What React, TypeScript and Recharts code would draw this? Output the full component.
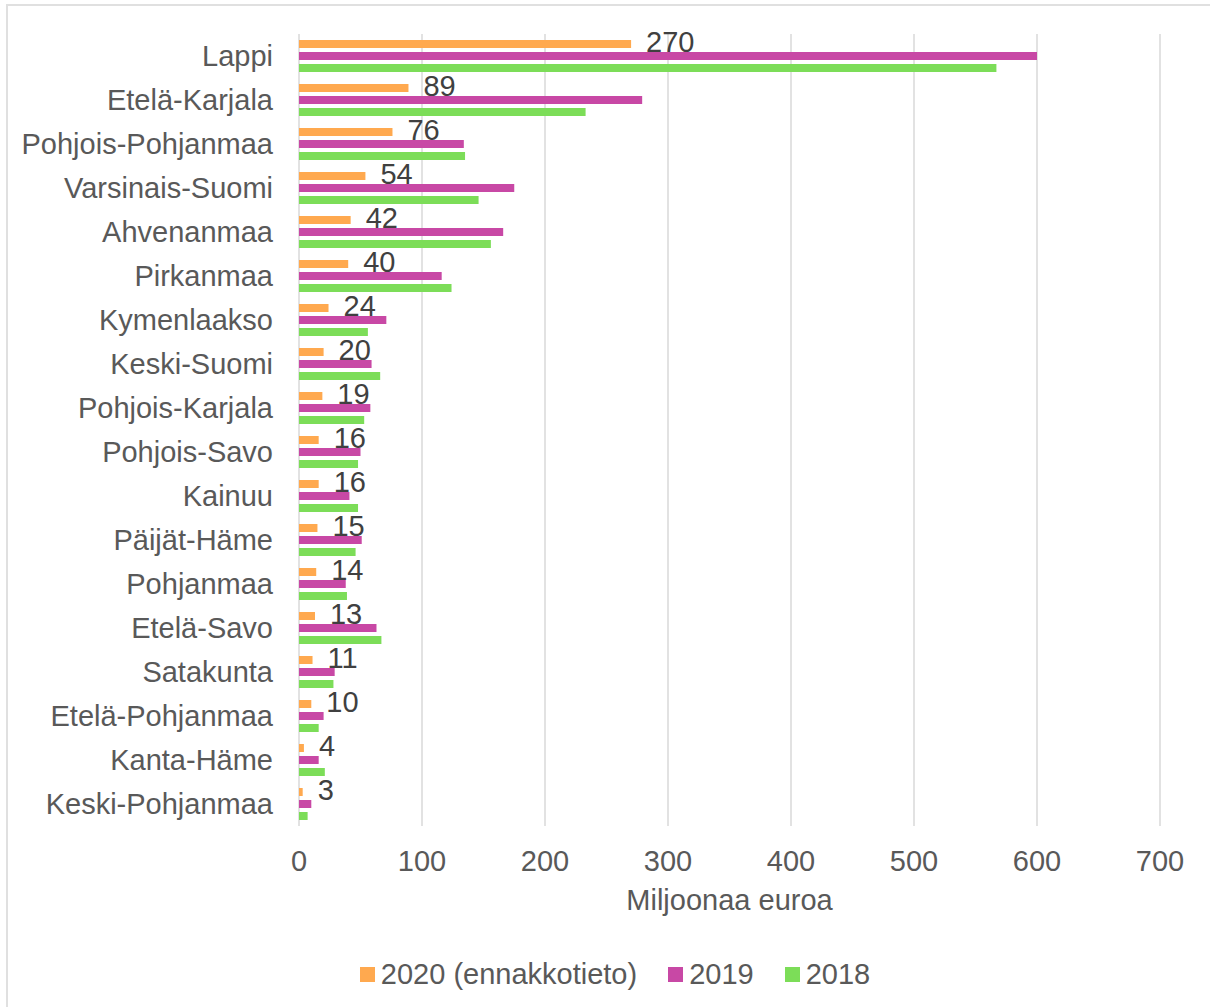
import React from 'react';
import {
  BarChart,
  Bar,
  XAxis,
  YAxis,
  CartesianGrid,
  Legend,
  LabelList,
} from 'recharts';

const regions = [
  'Lappi',
  'Etelä-Karjala',
  'Pohjois-Pohjanmaa',
  'Varsinais-Suomi',
  'Ahvenanmaa',
  'Pirkanmaa',
  'Kymenlaakso',
  'Keski-Suomi',
  'Pohjois-Karjala',
  'Pohjois-Savo',
  'Kainuu',
  'Päijät-Häme',
  'Pohjanmaa',
  'Etelä-Savo',
  'Satakunta',
  'Etelä-Pohjanmaa',
  'Kanta-Häme',
  'Keski-Pohjanmaa',
];

const values2020 = [270, 89, 76, 54, 42, 40, 24, 20, 19, 16, 16, 15, 14, 13, 11, 10, 4, 3];
const values2019 = [600, 279, 134, 175, 166, 116, 71, 59, 58, 50, 41, 51, 38, 63, 29, 20, 16, 10];
const values2018 = [567, 233, 135, 146, 156, 124, 56, 66, 53, 48, 48, 46, 39, 67, 28, 16, 21, 7];

const xTicks = [0, 100, 200, 300, 400, 500, 600, 700];

const seriesNames = ['2020 (ennakkotieto)', '2019', '2018'];
const seriesColors = ['#FFA94F', '#C848A5', '#7CDD58'];

const data = regions.map((name, i) => ({
  name,
  y2020: values2020[i],
  y2019: values2019[i],
  y2018: values2018[i],
}));

const FONT = '"Liberation Sans", Arial, sans-serif';
const TEXT = '#595959';
const FS = 29;

const LegendBox = () => (
  <div
    style={{
      height: 40,
      display: 'flex',
      justifyContent: 'center',
      alignItems: 'center',
      paddingLeft: 20,
      fontFamily: FONT,
      fontSize: FS,
      color: TEXT,
    }}
  >
    {seriesNames.map((s, i) => (
      <div key={s} style={{ display: 'flex', alignItems: 'center', marginRight: i < 2 ? 31 : 0 }}>
        <span style={{ width: 15, height: 15, background: seriesColors[i], marginRight: 6 }} />
        <span>{s}</span>
      </div>
    ))}
  </div>
);

export default function App() {
  return (
    <div
      style={{
        position: 'absolute',
        left: 0,
        top: 0,
        width: 1210,
        height: 1007,
        background: '#fff',
        overflow: 'hidden',
        fontFamily: FONT,
      }}
    >
      <div
        style={{
          position: 'absolute',
          left: 6,
          top: 4,
          right: -10,
          bottom: -10,
          borderLeft: '2px solid #e0e0e0',
          borderTop: '2px solid #e0e0e0',
        }}
      />
      <BarChart
        width={1210}
        height={1007}
        data={data}
        layout="vertical"
        margin={{ top: 34, right: 50, left: 0, bottom: 51 }}
        barSize={8}
        barGap={4}
      >
        <CartesianGrid horizontal={false} stroke="#d9d9d9" strokeWidth={1.5} />
        <XAxis
          type="number"
          domain={[0, 700]}
          ticks={xTicks}
          height={90}
          axisLine={false}
          tickLine={false}
          tickSize={0}
          tickMargin={24}
          tick={{ fill: TEXT, fontSize: FS, fontFamily: FONT }}
          label={{
            value: 'Miljoonaa euroa',
            position: 'insideBottom',
            offset: 6,
            fill: TEXT,
            fontSize: FS,
            fontFamily: FONT,
          }}
        />
        <YAxis
          type="category"
          dataKey="name"
          width={299}
          axisLine={false}
          tickLine={false}
          tickSize={0}
          tickMargin={26}
          interval={0}
          tick={{ fill: TEXT, fontSize: FS, fontFamily: FONT }}
        />
        <Legend
          verticalAlign="bottom"
          content={<LegendBox />}
          wrapperStyle={{ left: 0, width: 1210, bottom: 13 }}
        />
        <Bar dataKey="y2020" name={seriesNames[0]} fill={seriesColors[0]} isAnimationActive={false}>
          <LabelList
            dataKey="y2020"
            position="right"
            offset={15}
            dy={-2}
            fill="#404040"
            fontSize={FS}
            fontFamily={FONT}
          />
        </Bar>
        <Bar dataKey="y2019" name={seriesNames[1]} fill={seriesColors[1]} isAnimationActive={false} />
        <Bar dataKey="y2018" name={seriesNames[2]} fill={seriesColors[2]} isAnimationActive={false} />
      </BarChart>
    </div>
  );
}
